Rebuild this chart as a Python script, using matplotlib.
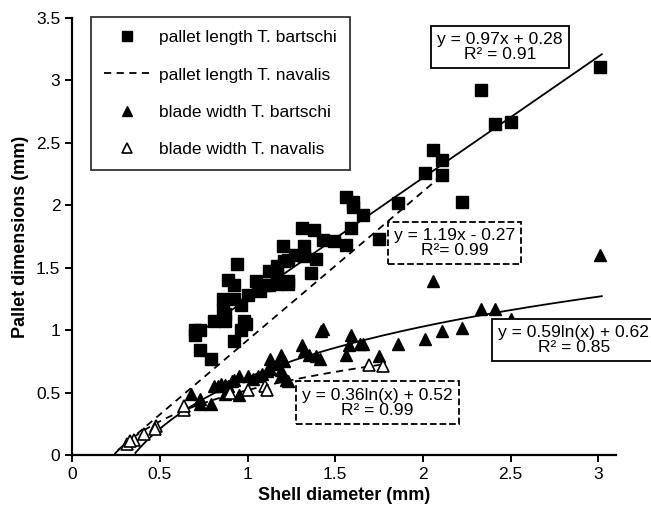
import numpy as np
import matplotlib
matplotlib.use('Agg')
import matplotlib.pyplot as plt
from matplotlib.lines import Line2D

plt.rcParams['font.family'] = ['Liberation Sans', 'DejaVu Sans']

# pallet length T. bartschi (filled squares)
sq_x = [3.01, 2.33, 2.41, 2.50, 2.06, 2.11, 2.01, 2.11, 2.22, 1.86, 1.66, 1.75,
        1.56, 1.60, 1.60, 1.59, 1.56, 1.31, 1.38, 1.43, 1.20, 0.94, 1.32, 1.32,
        1.39, 1.36, 1.21, 1.17, 1.12, 1.17, 1.23, 1.05, 0.89, 0.92, 0.70, 0.73,
        0.70, 0.73, 0.79, 0.81, 0.86, 0.86, 0.87, 0.96, 0.98, 0.96, 0.92, 1.00,
        1.06, 1.10, 1.17, 1.23, 0.92, 0.87, 0.99, 1.07, 1.12, 1.23, 1.27, 1.49]
sq_y = [3.11, 2.92, 2.65, 2.67, 2.44, 2.36, 2.26, 2.24, 2.03, 2.02, 1.92, 1.73,
        2.07, 2.03, 1.99, 1.82, 1.68, 1.82, 1.80, 1.72, 1.67, 1.53, 1.67, 1.59,
        1.57, 1.46, 1.55, 1.51, 1.47, 1.43, 1.39, 1.39, 1.40, 1.36, 1.00, 1.00,
        0.96, 0.84, 0.77, 1.07, 1.25, 1.16, 1.13, 1.20, 1.07, 1.00, 0.91, 1.28,
        1.32, 1.36, 1.37, 1.37, 1.25, 1.07, 1.05, 1.31, 1.36, 1.56, 1.60, 1.71]

# blade width T. bartschi (filled triangles)
tri_x = [3.01, 2.06, 2.33, 2.41, 2.50, 2.22, 2.11, 2.01, 1.86, 1.66, 1.75,
         1.43, 1.59, 1.58, 1.56, 1.31, 1.32, 1.35, 1.39, 1.41, 1.19, 1.17,
         1.21, 1.13, 1.11, 1.08, 1.06, 1.03, 1.00, 0.95, 0.92, 0.91, 0.89,
         0.87, 0.85, 0.83, 0.81, 0.95, 0.87, 0.79, 0.73, 0.68, 1.19, 1.22,
         1.13, 1.64, 1.42, 1.19, 1.23, 0.73]
tri_y = [1.60, 1.39, 1.17, 1.17, 1.09, 1.02, 0.99, 0.93, 0.89, 0.89, 0.79,
         1.01, 0.96, 0.88, 0.80, 0.88, 0.83, 0.80, 0.79, 0.77, 0.80, 0.73,
         0.75, 0.69, 0.67, 0.65, 0.63, 0.61, 0.63, 0.63, 0.60, 0.59, 0.55,
         0.56, 0.57, 0.55, 0.55, 0.48, 0.49, 0.41, 0.45, 0.49, 0.63, 0.60,
         0.77, 0.89, 0.99, 0.68, 0.59, 0.41]

# blade width T. navalis (open triangles)
otri_x = [1.69, 1.77, 1.10, 1.11, 0.64, 0.64, 0.48, 0.47, 0.41, 0.35, 0.31, 0.33, 0.90, 1.00]
otri_y = [0.72, 0.71, 0.55, 0.52, 0.36, 0.39, 0.23, 0.21, 0.17, 0.12, 0.09, 0.11, 0.50, 0.52]

# fitted relationships
lin_bart = (0.97, 0.28, 0.70, 3.02)   # slope, intercept, x start, x end
lin_nav = (1.19, -0.27, 0.26, 2.11)
log_bart = (0.59, 0.62, 0.36, 3.02)
log_nav = (0.36, 0.52, 0.24, 1.78)

fig = plt.figure(figsize=(6.51, 5.13), dpi=100)
ax = fig.add_axes([0.111, 0.113, 0.835, 0.852])

ax.plot(sq_x, sq_y, 's', color='black', ms=8, zorder=3)
ax.plot(tri_x, tri_y, '^', color='black', ms=8.5, zorder=3)
ax.plot(otri_x, otri_y, '^', mfc='white', mec='black', mew=1.2, ms=8.5, zorder=4)

a, b, x0, x1 = lin_bart
xs = np.linspace(x0, x1, 50)
ax.plot(xs, a * xs + b, '-', color='black', lw=1.3, zorder=2)
a, b, x0, x1 = lin_nav
xs = np.linspace(x0, x1, 50)
ax.plot(xs, a * xs + b, '--', color='black', lw=1.3, dashes=(4, 3), zorder=2)
a, b, x0, x1 = log_bart
xs = np.linspace(x0, x1, 200)
ax.plot(xs, a * np.log(xs) + b, '-', color='black', lw=1.3, zorder=2)
a, b, x0, x1 = log_nav
xs = np.linspace(x0, x1, 200)
ax.plot(xs, a * np.log(xs) + b, '--', color='black', lw=1.3, dashes=(4, 3), zorder=2)

# equation boxes
fs_eq = 12.6
solid_box = dict(boxstyle='square,pad=0.35', fc='white', ec='black', lw=1.3)
dash_box = dict(boxstyle='square,pad=0.35', fc='white', ec='black', lw=1.3, ls='--')
ax.text(2.44, 3.27, 'y = 0.97x + 0.28\nR² = 0.91', ha='center', va='center',
        fontsize=fs_eq, linespacing=1.0, bbox=solid_box, zorder=5)
ax.text(2.18, 1.70, 'y = 1.19x - 0.27\nR²= 0.99', ha='center', va='center',
        fontsize=fs_eq, linespacing=1.0, bbox=dash_box, zorder=5)
ax.text(2.86, 0.92, 'y = 0.59ln(x) + 0.62\nR² = 0.85', ha='center', va='center',
        fontsize=fs_eq, linespacing=1.0, bbox=solid_box, zorder=5, clip_on=False)
ax.text(1.74, 0.42, 'y = 0.36ln(x) + 0.52\nR² = 0.99', ha='center', va='center',
        fontsize=fs_eq, linespacing=1.0, bbox=dash_box, zorder=5)

ax.set_xlim(0, 3.1)
ax.set_ylim(0, 3.5)
ax.set_xticks([0, 0.5, 1, 1.5, 2, 2.5, 3])
ax.set_xticklabels(['0', '0.5', '1', '1.5', '2', '2.5', '3'])
ax.set_yticks([0, 0.5, 1, 1.5, 2, 2.5, 3, 3.5])
ax.set_yticklabels(['0', '0.5', '1', '1.5', '2', '2.5', '3', '3.5'])
for s in ['top', 'right']:
    ax.spines[s].set_visible(False)
for s in ['left', 'bottom']:
    ax.spines[s].set_linewidth(1.6)
ax.tick_params(direction='out', length=5, width=1.4, labelsize=12.5, colors='black')
ax.set_xlabel('Shell diameter (mm)', fontsize=13, fontweight='bold', labelpad=4)
ax.set_ylabel('Pallet dimensions (mm)', fontsize=13, fontweight='bold', labelpad=5)

handles = [
    Line2D([], [], ls='none', marker='s', color='black', ms=6.5),
    Line2D([], [], ls='--', color='black', lw=1.3, dashes=(4, 3)),
    Line2D([], [], ls='none', marker='^', color='black', ms=7.5),
    Line2D([], [], ls='none', marker='^', mfc='white', mec='black', mew=1.2, ms=7.5),
]
labels = ['pallet length T. bartschi', 'pallet length T. navalis',
          'blade width T. bartschi', 'blade width T. navalis']
leg = ax.legend(handles, labels, loc='upper left', bbox_to_anchor=(91 / 651, 1 - 17 / 513),
                bbox_transform=fig.transFigure, fontsize=12.5, frameon=True, fancybox=False,
                edgecolor='black', labelspacing=1.28, handlelength=2.6, handletextpad=0.57,
                borderpad=0.75, borderaxespad=0)
leg.get_frame().set_linewidth(1.3)

fig.savefig('out.png', dpi=100)
